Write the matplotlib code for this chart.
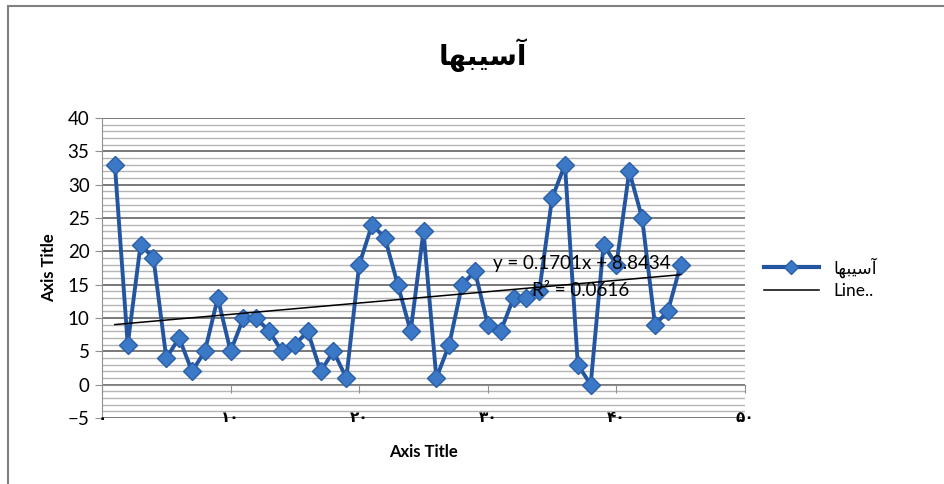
import matplotlib.pyplot as plt
import numpy as np
from matplotlib.patches import Rectangle
from matplotlib.lines import Line2D

# shaped + reversed so it renders right-to-left without a bidi library
title_fa = '\uFE8E\uFEEC\uFE92\uFEF4\uFEB3\uFE81'  # آسیبها

x_vals = list(range(1, 46))
injuries = [33, 6, 21, 19, 4, 7, 2, 5, 13, 5,
            10, 10, 8, 5, 6, 8, 2, 5, 1, 18,
            24, 22, 15, 8, 23, 1, 6, 15, 17, 9,
            8, 13, 13, 14, 28, 33, 3, 0, 21, 18,
            32, 25, 9, 11, 18]
x_ticks = [0, 10, 20, 30, 40, 50]
x_tick_labels = ['۰', '۱۰', '۲۰', '۳۰', '۴۰', '۵۰']
y_ticks = [-5, 0, 5, 10, 15, 20, 25, 30, 35, 40]

plt.rcParams['font.family'] = ['Lato', 'DejaVu Sans']

fig = plt.figure(figsize=(9.44, 4.84), dpi=100)
ax = fig.add_axes([102 / 944, 1 - 418 / 484, 643 / 944, 300 / 484])

# chart border (only left/top edges visible in the crop)
fig.patches.append(Rectangle((8 / 944, -0.1), 1.2, 1 - 6 / 484 + 0.1,
                             transform=fig.transFigure, fill=False,
                             edgecolor='#808080', lw=1.5))

ax.set_xlim(0, 50)
ax.set_ylim(-5, 40)

for v in np.arange(-5, 41, 1):
    if v % 5 == 0:
        ax.axhline(v, color='#555555', lw=1.1, zorder=1)
    else:
        ax.axhline(v, color='#b5b5b5', lw=1.0, zorder=1)

ax.plot(x_vals, injuries, color='#2355a0', lw=2.8, marker='D', markersize=9,
        markerfacecolor='#3b78c6', markeredgecolor='#2a5ea8', zorder=3)

# linear trendline
coef = np.polyfit(x_vals, injuries, 1)
tx = np.array([x_vals[0], x_vals[-1]])
ax.plot(tx, np.polyval(coef, tx), color='black', lw=1.1, zorder=4)
ax.text(30.4, 18.2, 'y = 0.1701x + 8.8434', fontsize=13.5, ha='left', va='center', zorder=5)
ax.text(37.2, 14.2, 'R² = 0.0616', fontsize=13.5, ha='center', va='center', zorder=5)

for s in ['top', 'right']:
    ax.spines[s].set_visible(False)
ax.spines['left'].set_color('#909090')
ax.spines['bottom'].set_position(('data', 0))
ax.spines['bottom'].set_color('#909090')

ax.set_yticks(y_ticks)
ax.set_xticks(x_ticks)
ax.tick_params(axis='y', length=5, color='#909090', labelsize=13.5, pad=4)
ax.tick_params(axis='x', length=6, color='#909090', labelbottom=False)
for xv, lab in zip(x_ticks, x_tick_labels):
    ax.text(xv, -5, lab, ha='center', va='center', fontsize=11,
            fontweight='bold', family='DejaVu Sans', zorder=5)

ax.set_ylabel('Axis Title', fontsize=12, fontweight='bold')
ax.set_xlabel('Axis Title', fontsize=12, fontweight='bold')
ax.yaxis.set_label_coords(-0.07, 0.5)
ax.xaxis.set_label_coords(0.5, -0.088)

fig.text(483 / 944, 1 - 55 / 484, title_fa, fontsize=20, fontweight='bold',
         family='DejaVu Sans', ha='center', va='center')

handles = [Line2D([], [], color='#2355a0', lw=3, marker='D', markersize=7,
                  markerfacecolor='#3b78c6', markeredgecolor='#2a5ea8'),
           Line2D([], [], color='black', lw=1.1)]
fig.legend(handles, [title_fa, 'Line..'], loc='center left',
           bbox_to_anchor=(748 / 944, 1 - 278 / 484), frameon=False,
           handlelength=3.2, labelspacing=0.3,
           prop={'family': ['Lato', 'DejaVu Sans'], 'size': 12.5})

fig.savefig('out.png', dpi=100)
